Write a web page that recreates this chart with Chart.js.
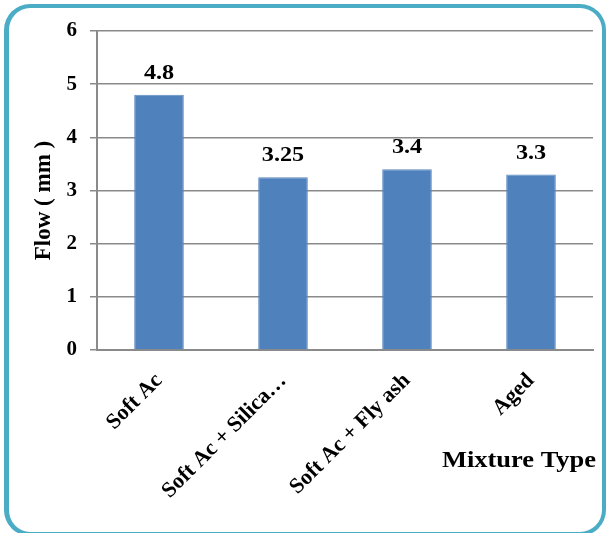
<!DOCTYPE html>
<html>
<head>
<meta charset="utf-8">
<script src="https://cdn.jsdelivr.net/npm/chart.js@4"></script>
<style>
  html, body { margin: 0; padding: 0; background: #fff; }
  #wrap { position: relative; width: 606px; height: 533px; }
  #frame {
    position: absolute; left: 4px; top: 4px; width: 593px; height: 524px;
    border: 4px solid #4BACC6; border-left-width: 5px; border-radius: 26px;
  }
  canvas { position: absolute; left: 0; top: 0; }
</style>
</head>
<body>
<div id="wrap">
  <div id="frame"></div>
  <canvas id="flowChart" width="606" height="533"></canvas>
</div>
<script>
// chart data
const mixtures = ['Soft Ac', 'Soft Ac + Silica…', 'Soft Ac + Fly ash', 'Aged'];
const flowValues = [4.8, 3.25, 3.4, 3.3];
const flowLabels = ['4.8', '3.25', '3.4', '3.3'];
const yTicks = [0, 1, 2, 3, 4, 5, 6];

const serif = '"Liberation Serif", "Times New Roman", serif';

// draw text a bit wider than the font gives (the source picture is stretched)
function wideText(ctx, text, x, y, stretch) {
    ctx.save();
    ctx.translate(x, y);
    ctx.scale(stretch, 1);
    ctx.fillText(text, 0, 0);
    ctx.restore();
}

// value labels above each bar
const valueLabels = {
    id: 'valueLabels',
    afterDatasetsDraw(chart) {
        const ctx = chart.ctx;
        const meta = chart.getDatasetMeta(0);
        ctx.save();
        ctx.font = 'bold 22px ' + serif;
        ctx.fillStyle = '#000';
        ctx.textAlign = 'center';
        ctx.textBaseline = 'alphabetic';
        meta.data.forEach((bar, i) => {
            wideText(ctx, flowLabels[i], bar.x, bar.y - 16, 1.1);
        });
        ctx.restore();
    }
};

// axis titles
const axisTitles = {
    id: 'axisTitles',
    afterDraw(chart) {
        const ctx = chart.ctx;
        const area = chart.chartArea;
        ctx.save();
        ctx.fillStyle = '#000';

        ctx.font = 'bold 23px ' + serif;
        ctx.textAlign = 'right';
        ctx.textBaseline = 'alphabetic';
        wideText(ctx, 'Mixture Type', area.right + 3, area.bottom + 117, 1.15);

        ctx.translate(50, (area.top + area.bottom) / 2 + 10);
        ctx.rotate(-Math.PI / 2);
        ctx.textAlign = 'center';
        ctx.font = 'bold 23px ' + serif;
        ctx.fillText('Flow ( mm )', 0, 0);
        ctx.restore();
    }
};

new Chart(document.getElementById('flowChart'), {
    type: 'bar',
    data: {
        labels: mixtures,
        datasets: [{
            label: 'Flow',
            data: flowValues,
            backgroundColor: '#4F81BD',
            borderColor: '#5B8AC2',
            borderWidth: 1,
            barPercentage: 0.4,
            categoryPercentage: 1
        }]
    },
    options: {
        responsive: false,
        animation: false,
        events: [],
        layout: { padding: { top: 31, right: 13, left: 0, bottom: 0 } },
        plugins: {
            legend: { display: false },
            tooltip: { enabled: false }
        },
        scales: {
            x: {
                grid: { display: false, drawTicks: false },
                border: { color: '#8a8a8a', width: 2 },
                ticks: {
                    color: '#000',
                    font: { family: serif, size: 22, weight: 'bold' },
                    minRotation: 45,
                    maxRotation: 45,
                    padding: 18
                },
                afterFit(scale) { scale.height = 183; }
            },
            y: {
                min: 0,
                max: 6,
                afterBuildTicks(scale) { scale.ticks = yTicks.map(v => ({ value: v })); },
                grid: { color: '#8a8a8a', lineWidth: 1.5, tickLength: 7 },
                border: { color: '#8a8a8a', width: 2 },
                ticks: {
                    color: '#000',
                    font: { family: serif, size: 21, weight: 'bold' },
                    padding: 13
                },
                afterFit(scale) { scale.width = 97; }
            }
        }
    },
    plugins: [valueLabels, axisTitles]
});
</script>
</body>
</html>
